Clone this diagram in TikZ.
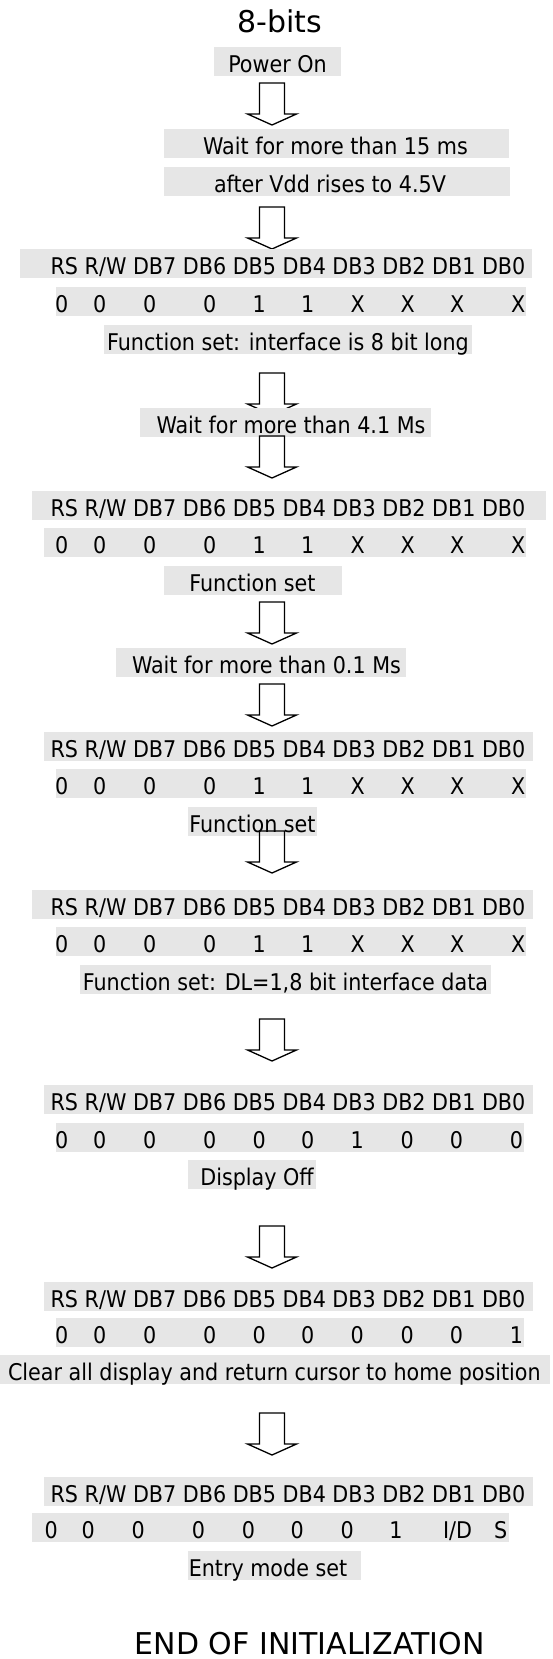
\documentclass[tikz,border=0pt]{standalone}
\usepackage{fontspec}
\setmainfont{DejaVu Sans Condensed}
\newfontfamily\titlefont{DejaVu Sans}
\definecolor{bandgray}{RGB}{230,230,230}

\tikzset{
  band/.style={fill=bandgray},
  txt/.style={anchor=base, inner sep=0pt, font=\fontsize{23}{27}\selectfont},
  title/.style={anchor=base, inner sep=0pt, font=\titlefont\fontsize{30}{36}\selectfont},
  flow/.style={draw, line width=1.3pt, line join=miter}
}

% grey strip behind a line of text: x left, x right, y top
\newcommand{\band}[3]{\fill[band] (#1,#3) rectangle (#2,#3+29);}
% hollow block arrow, #1 name, #2 y of its top
\newcommand{\downarr}[2]{%
  \coordinate (#1) at (272,#2);
  \draw[flow] (#1) ++(-12.5,0) -- ++(25,0) -- ++(0,31) -- ++(12,0)
    -- ++(-24.5,11) -- ++(-24.5,-11) -- ++(12,0) -- cycle;}
% pin header
\newcommand{\hdr}[4]{%
  \band{#2}{#3}{#4}
  \node[txt] (#1) at (288,#4+25.5) {RS R/W DB7 DB6 DB5 DB4 DB3 DB2 DB1 DB0};}
% bit values under the header
\newcommand{\bits}[5]{%
  \band{#2}{#3}{#4}
  \foreach \x/\v [count=\i] in {#5}
    \node[txt] (#1-\i) at (\x,#4+25.5) {\v};}

\begin{document}
\begin{tikzpicture}[x=1pt,y=-1pt]
\useasboundingbox (0,0) rectangle (553,1659);

\node[title] (head) at (279.5,32.3) {8-bits};

\band{214}{341}{47}
\node[txt] (power) at (277.5,72.5) {Power On};
\downarr{a1}{83}
\band{164}{509}{129}
\node[txt] (wait1) at (335.5,154.5) {Wait for more than 15 ms};
\band{164}{510}{167}
\node[txt] (vdd) at (330,192.5) {after Vdd rises to 4.5V};
\downarr{a2}{207}

\hdr{h1}{20}{532}{249}
\bits{b1}{56}{526}{287}{61.7/0,99.8/0,149.8/0,209.7/0,259.1/1,307.7/1,357.8/X,407.8/X,457.2/X,518.2/X}
\band{104}{472}{325}
\node[txt] (fs1) at (288,350.5) {Function set: interface is 8 bit long};
\downarr{a3}{373}
\band{140}{431}{408}
\node[txt] (wait2) at (291,433.5) {Wait for more than 4.1 Ms};
\downarr{a4}{436}

\hdr{h2}{32.4}{545.7}{491}
\bits{b2}{44}{526}{528}{61.7/0,99.8/0,149.8/0,209.7/0,259.1/1,307.7/1,357.8/X,407.8/X,457.2/X,518.2/X}
\band{164}{342}{566}
\node[txt] (fs2) at (252.5,591.5) {Function set};
\downarr{a5}{602}
\band{116}{406}{648}
\node[txt] (wait3) at (266.5,673.5) {Wait for more than 0.1 Ms};
\downarr{a6}{684}

\hdr{h3}{44}{533}{732}
\bits{b3}{56}{526}{769}{61.7/0,99.8/0,149.8/0,209.7/0,259.1/1,307.7/1,357.8/X,407.8/X,457.2/X,518.2/X}
\band{188}{317}{807}
\node[txt] (fs3) at (252.5,832.5) {Function set};
\downarr{a7}{831}

\hdr{h4}{32.4}{533}{890}
\bits{b4}{56}{526}{927}{61.7/0,99.8/0,149.8/0,209.7/0,259.1/1,307.7/1,357.8/X,407.8/X,457.2/X,518.2/X}
\band{80}{491}{965}
\node[txt] (fs4) at (285.5,990.5) {Function set: DL=1,8 bit interface data};
\downarr{a8}{1019}

\hdr{h5}{44}{533}{1085}
\bits{b5}{56}{523.5}{1123}{61.7/0,99.8/0,149.8/0,209.7/0,259.1/0,307.7/0,357.1/1,407.1/0,456.5/0,516.4/0}
\band{188}{315.5}{1160}
\node[txt] (doff) at (257,1185.5) {Display Off};
\downarr{a9}{1226}

\hdr{h6}{44}{533}{1282}
\bits{b6}{56}{523.5}{1318}{61.7/0,99.8/0,149.8/0,209.7/0,259.1/0,307.7/0,357.1/0,407.1/0,456.5/0,516.4/1}
\band{0}{550}{1355}
\node[txt] (clr) at (274.4,1380.5) {Clear all display and return cursor to home position};
\downarr{a10}{1413}

\hdr{h7}{44}{533}{1477}
\bits{b7}{32.4}{508.7}{1513}{51.1/0,88.1/0,138.2/0,198.5/0,248.5/0,297.2/0,347.2/0,395.9/1,457.5/{I/D},500.6/S}
\band{188}{361}{1551}
\node[txt] (entry) at (268,1576.5) {Entry mode set};

\node[title] (fin) at (309.7,1654) {END OF INITIALIZATION};
\end{tikzpicture}
\end{document}
